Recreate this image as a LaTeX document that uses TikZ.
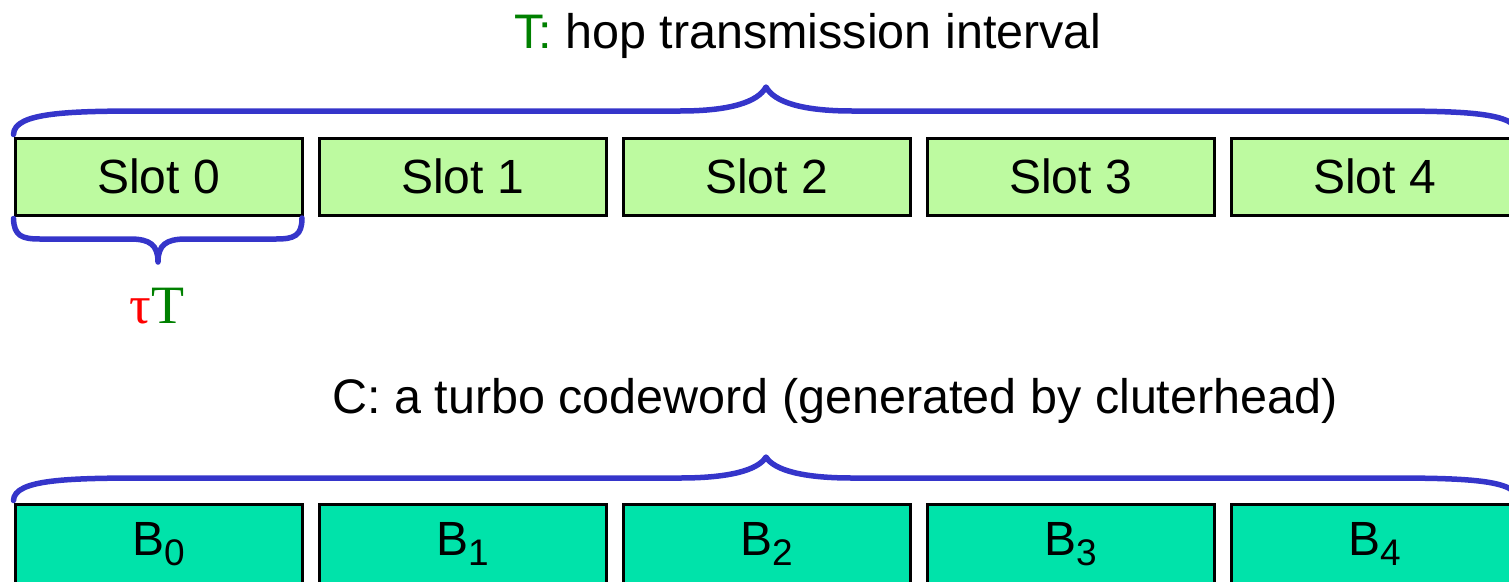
\documentclass[tikz,border=0pt]{standalone}
\usepackage{fontspec}
\setmainfont{Liberation Sans}
\newfontfamily\seriffont{Liberation Serif}
\definecolor{slotgreen}{HTML}{BDFAA0}
\definecolor{blockteal}{HTML}{00E3AA}
\definecolor{bracebl}{HTML}{3535CA}
\definecolor{tgreen}{HTML}{008000}
\tikzset{
  slotbox/.style={draw=black, line width=3pt, fill=slotgreen, minimum width=287pt,
    minimum height=77pt, inner sep=0pt, anchor=north west, font=\fontsize{48}{50}\selectfont},
  blockbox/.style={slotbox, fill=blockteal, minimum height=80pt},
  brace/.style={draw=bracebl, line width=5.5pt, line cap=round, line join=round},
  caption/.style={anchor=base, inner sep=0pt, font=\fontsize{48.5}{50}\selectfont},
}
\newcommand{\blk}[1]{B\raisebox{-0.22em}{\fontsize{37}{37}\selectfont #1}}
\begin{document}
\begin{tikzpicture}[x=1pt,y=-1pt]
\useasboundingbox (0,0) rectangle (1509,581);
% row of time slots
\foreach \i in {0,...,4}
  \node[slotbox] (s\i) at (13.5+304*\i,136.5) {Slot \i};
% row of codeword blocks
\foreach \i in {0,...,4}
  \node[blockbox] (b\i) at (13.5+304*\i,502.5) {\blk{\i}};

% captions
\node[caption] (tcap) at (808,48) {\textcolor{tgreen}{T:} hop transmission interval};
\node[caption] (ccap) at (835,413) {C: a turbo codeword (generated by cluterhead)};
\node[caption, font=\fontsize{54}{56}\selectfont] (tau) at (157,323)
  {\seriffont\textcolor{red}{τ}\textcolor{tgreen}{T}};

% brace over the slots
\draw[brace] (s0.north west) ++(0,-2)
  .. controls (14,112) and (70,111) .. (150,111) -- (680,111)
  .. controls (730,111) and (758,102) .. (766,87)
  .. controls (774,102) and (802,111) .. (852,111) -- (1382,111)
  .. controls (1462,111) and (1518,112) .. (1518,134);
% brace under slot 0
\draw[brace] (s0.south west) ++(0,2)
  .. controls (14,236) and (22,239) .. (40,239) -- (130,239)
  .. controls (150,239) and (158,245) .. (158,262)
  .. controls (158,245) and (166,239) .. (186,239) -- (276,239)
  .. controls (294,239) and (302,236) .. (302,218);
% brace over the blocks
\draw[brace] (b0.north west) ++(0,-2)
  .. controls (14,479) and (70,478) .. (150,478) -- (680,478)
  .. controls (730,478) and (758,470) .. (766,457)
  .. controls (774,470) and (802,478) .. (852,478) -- (1382,478)
  .. controls (1462,478) and (1518,479) .. (1518,500);
\end{tikzpicture}
\end{document}
